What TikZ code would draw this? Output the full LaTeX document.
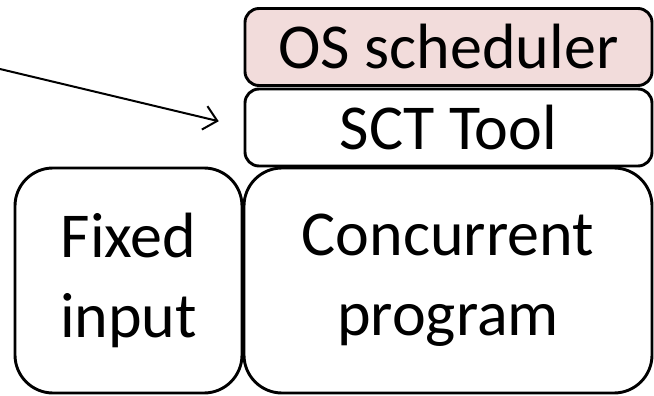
\documentclass[tikz,border=0pt]{standalone}
\usepackage{fontspec}
\setmainfont{Carlito}
\usetikzlibrary{arrows.meta}
\definecolor{schedpink}{HTML}{F2DCDB}
\tikzset{
  layer/.style={draw=black, line width=2.9pt, rounded corners=14pt,
    minimum width=407pt, minimum height=77pt, inner sep=0pt, outer sep=0pt,
    font=\fontsize{64}{80}\selectfont},
  block/.style={draw=black, line width=2.9pt, rounded corners=38pt,
    minimum height=225pt, inner sep=0pt, outer sep=0pt, align=center,
    font=\fontsize{64}{80}\selectfont},
  pointer/.style={line width=2pt, -{Straight Barb[length=13pt,width=24pt,line width=2pt]}}
}
\begin{document}
\begin{tikzpicture}[x=1pt,y=-1pt]
  \useasboundingbox (0,0) rectangle (654,396);
  % stacked layers on top of the program
  \node[layer, fill=schedpink] (os) at (448.5,47) {OS scheduler};
  \node[layer, fill=white] (sct) at (448.5,127.5) {SCT Tool};
  % input and program
  \node[block, minimum width=227pt] (fixed) at (128.5,280.5) {Fixed\\input};
  \node[block, minimum width=408pt] (conc) at (448,280.5) {Concurrent\\program};
  % incoming arrow from the left edge
  \coordinate (src) at (0,69);
  \draw[pointer, shorten >=27pt] (src) -- (sct.west);
\end{tikzpicture}
\end{document}
